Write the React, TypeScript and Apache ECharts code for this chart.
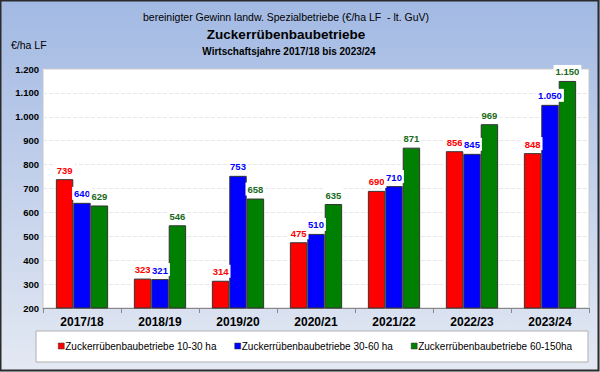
import React, { useEffect, useRef } from "react";
import * as echarts from "echarts";

const categories = ["2017/18", "2018/19", "2019/20", "2020/21", "2021/22", "2022/23", "2023/24"];
const seriesNames = [
  "Zuckerrübenbaubetriebe 10-30 ha",
  "Zuckerrübenbaubetriebe 30-60 ha",
  "Zuckerrübenbaubetriebe 60-150ha",
];
const small = [739, 323, 314, 475, 690, 856, 848];
const medium = [640, 321, 753, 510, 710, 845, 1050];
const large = [629, 546, 658, 635, 871, 969, 1150];
const colors = ["#ff0000", "#0000ff", "#008000"];
const labelColors = ["#ff0000", "#0000ff", "#1a6b1a"];

const fmt = (v: number) => {
  const s = String(Math.round(v));
  return s.replace(/\B(?=(\d{3})+(?!\d))/g, ".");
};

const FONT = "Liberation Sans, Arial, sans-serif";

export default function App() {
  const ref = useRef<HTMLDivElement>(null);
  useEffect(() => {
    document.body.style.margin = "0";
    if (!ref.current) return;
    const chart = echarts.init(ref.current, null, { renderer: "svg" });
    const data = [small, medium, large];
    chart.setOption({
      animation: false,
      backgroundColor: new echarts.graphic.LinearGradient(0, 0, 0, 1, [
        { offset: 0, color: "#a2b9e3" },
        { offset: 1, color: "#e4e9f3" },
      ]),
      textStyle: { fontFamily: FONT },
      graphic: [
        {
          type: "rect",
          shape: { x: 0.5, y: 0.5, width: 598, height: 370 },
          style: { fill: "none", stroke: "#2b2b2b", lineWidth: 2 },
          silent: true,
          z: 100,
        },
        {
          type: "text",
          x: 286,
          y: 17,
          style: {
            text: "bereinigter Gewinn landw. Spezialbetriebe (€/ha LF  - lt. GuV)",
            font: `10.5px ${FONT}`,
            fill: "#000",
            align: "center",
            verticalAlign: "middle",
          },
        },
        {
          type: "text",
          x: 286,
          y: 34,
          style: {
            text: "Zuckerrübenbaubetriebe",
            font: `bold 13.5px ${FONT}`,
            fill: "#000",
            align: "center",
            verticalAlign: "middle",
          },
        },
        {
          type: "text",
          x: 289,
          y: 51,
          style: {
            text: "Wirtschaftsjahre 2017/18 bis 2023/24",
            font: `bold 10px ${FONT}`,
            fill: "#000",
            align: "center",
            verticalAlign: "middle",
          },
        },
        {
          type: "text",
          x: 11,
          y: 45,
          style: {
            text: "€/ha LF",
            font: `10.5px ${FONT}`,
            fill: "#000",
            align: "left",
            verticalAlign: "middle",
          },
        },
        {
          type: "rect",
          shape: { x: 36, y: 331, width: 552, height: 31 },
          style: { fill: "#fff", stroke: "#b0b0b0", lineWidth: 1 },
          silent: true,
          z: -1,
        },
      ],
      grid: {
        left: 43,
        right: 11,
        top: 69,
        bottom: 64,
        containLabel: false,
        show: true,
        backgroundColor: "#fff",
        borderColor: "#c8c8c8",
        borderWidth: 1,
      },
      legend: {
        data: seriesNames,
        left: 58,
        top: 341,
        itemWidth: 6,
        itemHeight: 6,
        itemGap: 18,
        icon: "rect",
        itemStyle: { borderColor: "#333", borderWidth: 0.5 },
        textStyle: { fontSize: 10, color: "#000", padding: [0, 0, 0, -4] },
        padding: 0,
      },
      xAxis: {
        type: "category",
        data: categories,
        axisLine: { lineStyle: { color: "#888" } },
        axisTick: { show: true, lineStyle: { color: "#888" } },
        axisLabel: { fontSize: 12, fontWeight: "bold", color: "#000", margin: 8 },
      },
      yAxis: {
        type: "value",
        min: 200,
        max: 1200,
        interval: 100,
        axisLine: { show: false },
        axisTick: { show: false },
        axisLabel: { fontSize: 9.5, fontWeight: "bold", color: "#000", formatter: fmt, margin: 4 },
        splitLine: { lineStyle: { color: "#e8e8e8", type: "dashed" } },
      },
      series: data.map((d, i) => ({
        name: seriesNames[i],
        type: "bar",
        data: d,
        barGap: "0%",
        barCategoryGap: "33%",
        itemStyle: { color: colors[i], borderColor: "#333", borderWidth: 1 },
        label: {
          show: true,
          position: "top",
          distance: 3,
          formatter: (p: any) => fmt(p.value),
          color: labelColors[i],
          fontSize: 9.5,
          fontWeight: "bold",
          backgroundColor: "#fff",
          padding: [2, 2, 1, 2],
        },
      })),
    });
    return () => chart.dispose();
  }, []);
  return <div ref={ref} style={{ width: 600, height: 372 }} />;
}
